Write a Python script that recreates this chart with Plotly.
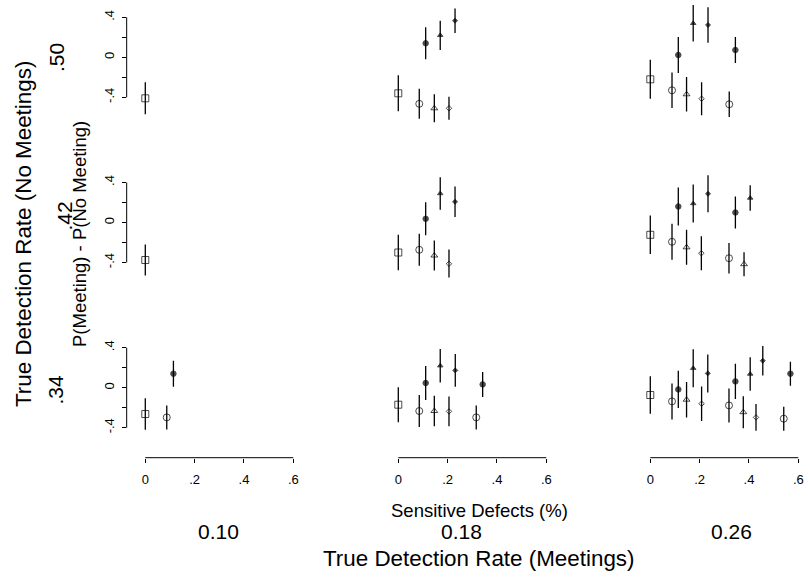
import plotly.graph_objects as go

# ---------------- data ----------------
ROW_LABELS = [".50", ".42", ".34"]          # True detection rate (no meetings), top -> bottom
COL_LABELS = ["0.10", "0.18", "0.26"]       # True detection rate (meetings), left -> right
X_TICK_VALS = [0, 0.2, 0.4, 0.6]
X_TICK_TEXT = ["0", ".2", ".4", ".6"]
Y_TICK_VALS = [-0.4, -0.2, 0, 0.2, 0.4]
Y_TICK_TEXT = ["-.4", "", "0", "", ".4"]

# kinds: sq = open square, oc/ot/od = open circle/triangle/diamond, fc/ft/fd = filled
PT_ROW = [0,
          0, 0, 0, 0, 0, 0, 0,
          0, 0, 0, 0, 0, 0, 0, 0, 0,
          1,
          1, 1, 1, 1, 1, 1, 1,
          1, 1, 1, 1, 1, 1, 1, 1, 1, 1, 1,
          2, 2, 2,
          2, 2, 2, 2, 2, 2, 2, 2, 2,
          2, 2, 2, 2, 2, 2, 2, 2, 2, 2, 2, 2, 2, 2, 2]
PT_COL = [0,
          1, 1, 1, 1, 1, 1, 1,
          2, 2, 2, 2, 2, 2, 2, 2, 2,
          0,
          1, 1, 1, 1, 1, 1, 1,
          2, 2, 2, 2, 2, 2, 2, 2, 2, 2, 2,
          0, 0, 0,
          1, 1, 1, 1, 1, 1, 1, 1, 1,
          2, 2, 2, 2, 2, 2, 2, 2, 2, 2, 2, 2, 2, 2, 2]
PT_KIND = ["sq",
           "sq", "oc", "fc", "ot", "ft", "od", "fd",
           "sq", "oc", "fc", "ot", "ft", "od", "fd", "oc", "fc",
           "sq",
           "sq", "oc", "fc", "ot", "ft", "od", "fd",
           "sq", "oc", "fc", "ot", "ft", "od", "fd", "oc", "fc", "ot", "ft",
           "sq", "oc", "fc",
           "sq", "oc", "fc", "ot", "ft", "od", "fd", "oc", "fc",
           "sq", "oc", "fc", "ot", "ft", "od", "fd", "oc", "fc", "ot", "ft", "od", "fd", "oc", "fc"]
PT_X = [0.0,
        0.0, 0.085, 0.111, 0.146, 0.170, 0.2055, 0.230,
        0.0, 0.088, 0.1135, 0.147, 0.174, 0.208, 0.234, 0.320, 0.345,
        0.0,
        0.0, 0.085, 0.111, 0.146, 0.170, 0.2055, 0.230,
        0.0, 0.088, 0.1135, 0.147, 0.174, 0.207, 0.234, 0.319, 0.345, 0.380, 0.405,
        0.0, 0.087, 0.114,
        0.0, 0.085, 0.111, 0.146, 0.170, 0.2055, 0.231, 0.316, 0.342,
        0.0, 0.088, 0.1135, 0.147, 0.174, 0.208, 0.233, 0.319, 0.345, 0.377, 0.405, 0.4285, 0.456, 0.541, 0.568]
PT_Y = [-0.41,
        -0.36, -0.465, 0.14, -0.51, 0.22, -0.51, 0.366,
        -0.22, -0.33, 0.023, -0.37, 0.34, -0.414, 0.323, -0.47, 0.073,
        -0.375,
        -0.30, -0.273, 0.037, -0.33, 0.29, -0.413, 0.207,
        -0.123, -0.193, 0.16, -0.248, 0.19, -0.307, 0.287, -0.357, 0.10, -0.417, 0.245,
        -0.263, -0.297, 0.14,
        -0.17, -0.233, 0.047, -0.233, 0.22, -0.237, 0.173, -0.297, 0.033,
        -0.073, -0.137, -0.017, -0.12, 0.195, -0.16, 0.143, -0.177, 0.063, -0.245, 0.137, -0.297, 0.27, -0.31, 0.14]
PT_ERR = [0.16,
          0.18, 0.15, 0.16, 0.14, 0.146, 0.115, 0.123,
          0.195, 0.177, 0.18, 0.172, 0.183, 0.165, 0.178, 0.127, 0.13,
          0.155,
          0.177, 0.16, 0.165, 0.15, 0.163, 0.142, 0.153,
          0.193, 0.18, 0.19, 0.175, 0.19, 0.17, 0.185, 0.152, 0.16, 0.12, 0.128,
          0.157, 0.12, 0.13,
          0.175, 0.16, 0.17, 0.153, 0.167, 0.148, 0.163, 0.12, 0.125,
          0.187, 0.18, 0.187, 0.177, 0.19, 0.172, 0.19, 0.17, 0.177, 0.16, 0.167, 0.133, 0.147, 0.12, 0.12]

KIND_SYMBOL = {"sq": "square-open", "oc": "circle-open", "ot": "triangle-up-open",
               "od": "diamond-open", "fc": "circle", "ft": "triangle-up", "fd": "diamond"}
KIND_SIZE = {"sq": 7, "oc": 7, "ot": 6, "od": 4.2, "fc": 5.5, "ft": 4.8, "fd": 3.8}

# ---------------- geometry (pixels) ----------------
W, H = 804, 578
COL_ZERO_PX = [145.3, 398.3, 650.3]
PX_PER_X = 246.67
X_RANGE = [-0.0755, 0.62]
ROW_ZERO_PX = [57.3, 222.5, 387.7]
PX_PER_Y = 100.0
Y_RANGES = [[-0.68, 0.57], [-0.55, 0.55], [-0.70, 0.55]]

FONT = "Liberation Sans, Arial, Helvetica, sans-serif"

fig = go.Figure()
layout_axes = {}
shapes = []

for r in range(3):
    for c in range(3):
        k = r * 3 + c + 1
        sfx = "" if k == 1 else str(k)
        xd0 = (COL_ZERO_PX[c] + X_RANGE[0] * PX_PER_X) / W
        xd1 = (COL_ZERO_PX[c] + X_RANGE[1] * PX_PER_X) / W
        lo, hi = Y_RANGES[r]
        yd0 = 1 - (ROW_ZERO_PX[r] - lo * PX_PER_Y) / H
        yd1 = 1 - (ROW_ZERO_PX[r] - hi * PX_PER_Y) / H
        bottom = (r == 2)
        left = (c == 0)
        layout_axes["xaxis" + sfx] = dict(
            domain=[xd0, min(xd1, 1.0)], range=X_RANGE, anchor="y" + sfx,
            showgrid=False, zeroline=False, showline=False,
            ticks="outside" if bottom else "", showticklabels=bottom,
            tickvals=X_TICK_VALS, ticktext=X_TICK_TEXT, ticklen=4, tickwidth=1,
            tickcolor="black", tickfont=dict(family=FONT, size=13, color="black"),
            ticklabelstandoff=6,
        )
        layout_axes["yaxis" + sfx] = dict(
            domain=[max(yd0, 0.0), min(yd1, 1.0)], range=[lo, hi], anchor="x" + sfx,
            showgrid=False, zeroline=False, showline=False,
            ticks="outside" if left else "", showticklabels=left,
            tickvals=Y_TICK_VALS, ticktext=Y_TICK_TEXT, ticklen=4, tickwidth=1,
            tickcolor="black", tickangle=-90,
            tickfont=dict(family=FONT, size=13, color="black"),
            ticklabelstandoff=2,
        )
        if left:
            shapes.append(dict(type="line", xref="x" + sfx + " domain", x0=0, x1=0,
                               yref="y" + sfx, y0=-0.4, y1=0.4,
                               line=dict(color="black", width=1)))
        if bottom:
            shapes.append(dict(type="line", xref="x" + sfx, x0=0, x1=0.6,
                               yref="y" + sfx + " domain", y0=0, y1=0,
                               line=dict(color="black", width=1)))

        idx = [i for i in range(len(PT_X)) if PT_ROW[i] == r and PT_COL[i] == c]
        kinds = [PT_KIND[i] for i in idx]
        fig.add_trace(go.Scatter(
            x=[PT_X[i] for i in idx], y=[PT_Y[i] for i in idx],
            mode="markers", xaxis="x" + sfx, yaxis="y" + sfx, cliponaxis=False,
            marker=dict(symbol=[KIND_SYMBOL[q] for q in kinds],
                        size=[KIND_SIZE[q] for q in kinds],
                        color="black", line=dict(color="black", width=1)),
            error_y=dict(type="data", array=[PT_ERR[i] for i in idx], symmetric=True,
                         width=0, thickness=1.3, color="black"),
            showlegend=False, hoverinfo="skip",
        ))

def ann(text, px, py, size, angle=0):
    return dict(text=text, x=px / W, y=1 - py / H, xref="paper", yref="paper",
                xanchor="center", yanchor="middle", showarrow=False, textangle=angle,
                font=dict(family=FONT, size=size, color="black"))

annotations = [
    ann("True Detection Rate (No Meetings)", 23, 234, 22.4, -90),
    ann("P(Meeting) - P(No Meeting)", 79, 234, 18.5, -90),
    ann(ROW_LABELS[0], 56.5, 57.5, 21, -90),
    ann(ROW_LABELS[1], 64.5, 216, 21, -90),
    ann(ROW_LABELS[2], 54.5, 390, 21, -90),
    ann("Sensitive Defects (%)", 479, 510.5, 18.5),
    ann(COL_LABELS[0], 218, 531, 21),
    ann(COL_LABELS[1], 461, 531, 21),
    ann(COL_LABELS[2], 731, 531, 21),
    ann("True Detection Rate (Meetings)", 479, 558.5, 22.4),
]

fig.update_layout(
    width=W, height=H, margin=dict(l=0, r=0, t=0, b=0),
    paper_bgcolor="white", plot_bgcolor="white", showlegend=False,
    font=dict(family=FONT, color="black"),
    shapes=shapes, annotations=annotations, **layout_axes,
)

fig.write_html("out.html", config={"displayModeBar": False, "staticPlot": True},
               post_script="document.body.style.margin='0';document.body.style.overflow='hidden';")
